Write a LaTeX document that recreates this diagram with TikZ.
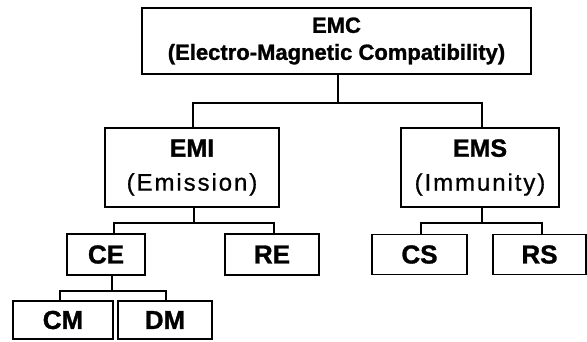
\documentclass[tikz,border=0pt]{standalone}
\usepackage{fontspec}
\setmainfont{Liberation Sans}[BoldFeatures={FakeBold=1.2}]
\newfontfamily\widefont{Liberation Sans}[LetterSpace=8,FakeBold=0.8]
\begin{document}
\begin{tikzpicture}[x=1pt,y=-1pt,
  box/.style={draw=black,line width=1.7pt,rectangle,inner sep=0pt,align=center,font=\bfseries\fontsize{26}{34}\selectfont},
  conn/.style={draw=black,line width=1.5pt}]
\useasboundingbox (0,0) rectangle (587,341);
\node[box,minimum width=389pt,minimum height=66pt,font=\bfseries\fontsize{22}{27}\selectfont] (emc) at (336.5,41) {EMC\\(Electro-Magnetic Compatibility)};
\node[box,minimum width=174pt,minimum height=79pt,font=\bfseries\fontsize{25}{34}\selectfont] (emi) at (192,167.5) {EMI\\{\widefont\mdseries\fontsize{24}{34}\selectfont (Emission)}};
\node[box,minimum width=158pt,minimum height=79pt,font=\bfseries\fontsize{25}{34}\selectfont] (ems) at (480,167.5) {EMS\\{\widefont\mdseries\fontsize{24}{34}\selectfont (Immunity)}};
\node[box,minimum width=78pt,minimum height=41pt] (ce) at (106,254.5) {CE};
\node[box,minimum width=94pt,minimum height=41pt] (re) at (272,254.5) {RE};
\node[box,minimum width=95pt,minimum height=40pt] (cs) at (419.5,254.5) {CS};
\node[box,minimum width=93pt,minimum height=40pt] (rs) at (539.5,254.5) {RS};
\node[box,minimum width=100pt,minimum height=38pt] (cm) at (63,320) {CM};
\node[box,minimum width=94pt,minimum height=38pt] (dm) at (165,320) {DM};
\draw[conn] ([xshift=1.5pt]emc.south) -- ++(0,28) -| ([xshift=1pt]emi.north);
\draw[conn] ([xshift=1.5pt]emc.south) -- ++(0,28) -| ([xshift=2pt]ems.north);
\draw[conn] ([xshift=2pt]emi.south) -- ++(0,15) -| ([xshift=8pt]ce.north);
\draw[conn] ([xshift=2pt]emi.south) -- ++(0,15) -| ([xshift=2pt]re.north);
\draw[conn] ([xshift=2pt]ems.south) -- ++(0,15) -| ([xshift=1.5pt]cs.north);
\draw[conn] ([xshift=2pt]ems.south) -- ++(0,15) -| ([xshift=2.5pt]rs.north);
\draw[conn] ([xshift=6pt]ce.south) -- ++(0,15) -| ([xshift=-3pt]cm.north);
\draw[conn] ([xshift=6pt]ce.south) -- ++(0,15) -| ([xshift=1pt]dm.north);
\end{tikzpicture}
\end{document}
